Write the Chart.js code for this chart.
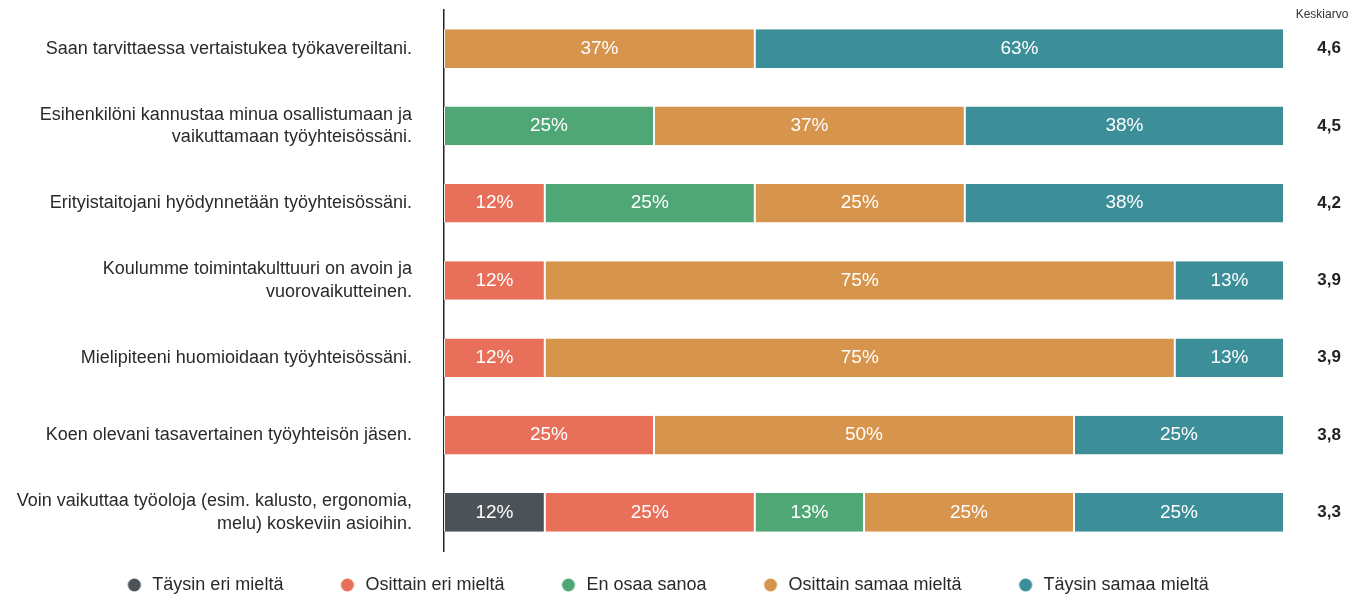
<!DOCTYPE html>
<html>
<head>
<meta charset="utf-8">
<script src="https://cdn.jsdelivr.net/npm/chart.js@4/dist/chart.umd.min.js"></script>
<style>
html,body{margin:0;padding:0;background:#fff;}
#wrap{width:1351px;height:595px;position:relative;}
</style>
</head>
<body>
<div id="wrap"><canvas id="c" width="1351" height="595"></canvas></div>
<script>
const categories = [
  ["Saan tarvittaessa vertaistukea työkavereiltani."],
  ["Esihenkilöni kannustaa minua osallistumaan ja", "vaikuttamaan työyhteisössäni."],
  ["Erityistaitojani hyödynnetään työyhteisössäni."],
  ["Koulumme toimintakulttuuri on avoin ja", "vuorovaikutteinen."],
  ["Mielipiteeni huomioidaan työyhteisössäni."],
  ["Koen olevani tasavertainen työyhteisön jäsen."],
  ["Voin vaikuttaa työoloja (esim. kalusto, ergonomia,", "melu) koskeviin asioihin."]
];
const averages = ["4,6", "4,5", "4,2", "3,9", "3,9", "3,8", "3,3"];
const seriesNames = ["Täysin eri mieltä", "Osittain eri mieltä", "En osaa sanoa", "Osittain samaa mieltä", "Täysin samaa mieltä"];
const taysinEri   = [0, 0, 0, 0, 0, 0, 12];
const osittainEri = [0, 0, 12, 12, 12, 25, 25];
const enOsaa      = [0, 25, 25, 0, 0, 0, 13];
const osittainSam = [37, 37, 25, 75, 75, 50, 25];
const taysinSam   = [63, 38, 38, 13, 13, 25, 25];
const colors = ["#4b5258", "#e8705a", "#4fa776", "#d6944c", "#3c8e99"];
const averageTitle = "Keskiarvo";

const seriesValues = [taysinEri, osittainEri, enOsaa, osittainSam, taysinSam];

const LEG_W = 63;
function legendDot(color){
  const cv = document.createElement('canvas');
  cv.width = LEG_W; cv.height = 14;
  const g = cv.getContext('2d');
  g.fillStyle = color;
  g.beginPath(); g.arc(LEG_W - 9, 7, 6.5, 0, Math.PI*2); g.fill();
  return cv;
}
const dots = colors.map(legendDot);

const barLabels = {
  id: 'barLabels',
  afterDatasetsDraw(chart){
    const ctx = chart.ctx;
    ctx.save();
    ctx.font = '19px "Liberation Sans", Arial, sans-serif';
    ctx.fillStyle = '#ffffff';
    ctx.textAlign = 'center';
    ctx.textBaseline = 'middle';
    chart.data.datasets.forEach((ds, di) => {
      const meta = chart.getDatasetMeta(di);
      meta.data.forEach((el, i) => {
        const v = ds.data[i];
        if (!v) return;
        ctx.fillText(v + '%', (el.x + el.base) / 2, el.y);
      });
    });
    ctx.fillStyle = '#333';
    ctx.font = '12px "Liberation Sans", Arial, sans-serif';
    ctx.textAlign = 'center';
    ctx.fillText(averageTitle, chart.chartArea.right + 38, 15);
    ctx.restore();
  }
};

new Chart(document.getElementById('c'), {
  type: 'bar',
  data: {
    labels: categories,
    datasets: seriesNames.map((n, k) => ({
      label: n,
      data: seriesValues[k],
      backgroundColor: colors[k],
      borderColor: 'rgba(255,255,255,0.9)',
      borderWidth: {left: 1, right: 1, top: 0, bottom: 0},
      borderSkipped: false,
      categoryPercentage: 0.98,
      barPercentage: 0.51
    }))
  },
  options: {
    indexAxis: 'y',
    responsive: false,
    animation: false,
    layout: { padding: { top: 10, bottom: -9, left: 0, right: 62 } },
    scales: {
      x: { stacked: true, min: 0, max: 100, display: false },
      y: {
        stacked: true,
        position: 'left',
        grid: { display: true, drawOnChartArea: false, drawTicks: false },
        border: { display: true, color: '#222', width: 1.5 },
        ticks: { color: '#2a2a2a', padding: 32, font: { family: '"Liberation Sans", Arial, sans-serif', size: 18, lineHeight: 1.25 } },
        afterFit(s){ s.width = 444; s.paddingTop = 0; s.paddingBottom = 0; }
      },
      y2: {
        type: 'category',
        labels: averages,
        position: 'right',
        grid: { display: false, drawTicks: false },
        border: { display: false },
        ticks: { mirror: true, color: '#222', padding: 57, font: { family: '"Liberation Sans", Arial, sans-serif', size: 17, weight: 'bold' } },
        afterFit(s){ s.width = 5; s.paddingTop = 0; s.paddingBottom = 0; }
      }
    },
    plugins: {
      tooltip: { enabled: false },
      legend: {
        position: 'bottom',
        title: { display: true, text: '', padding: 0, font: { size: 10, lineHeight: 1.5 } },
        labels: {
          usePointStyle: true,
          pointStyleWidth: LEG_W,
          boxHeight: 12,
          padding: 10,
          color: '#2a2a2a',
          font: { family: '"Liberation Sans", Arial, sans-serif', size: 18 },
          generateLabels(chart){
            const items = Chart.defaults.plugins.legend.labels.generateLabels(chart);
            items.forEach(it => { it.pointStyle = dots[it.datasetIndex]; });
            return items;
          }
        }
      }
    }
  },
  plugins: [barLabels]
});
</script>
</body>
</html>
